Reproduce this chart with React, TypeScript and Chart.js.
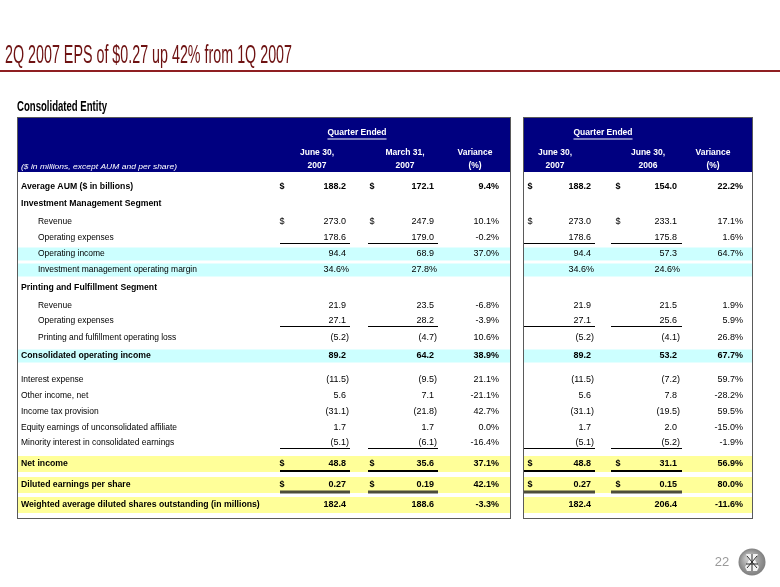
import React, { useEffect, useRef } from "react";
import { Chart, registerables } from "chart.js";

Chart.register(...registerables);

// ---------- content ----------
const slideTitle = "2Q 2007 EPS of $0.27 up 42% from 1Q 2007";
const sectionTitle = "Consolidated Entity";
const noteText = "($ in millions, except AUM and per share)";
const groupHeader = "Quarter Ended";
const qColHeads = [["June 30,", "2007"], ["March 31,", "2007"], ["Variance", "(%)"]];
const yColHeads = [["June 30,", "2007"], ["June 30,", "2006"], ["Variance", "(%)"]];
const pageNumber = "22";

const rowLabels = [
  "Average AUM ($ in billions)",
  "Investment Management Segment",
  "Revenue",
  "Operating expenses",
  "Operating income",
  "Investment management operating margin",
  "Printing and Fulfillment Segment",
  "Revenue",
  "Operating expenses",
  "Printing and fulfillment operating loss",
  "Consolidated operating income",
  "Interest expense",
  "Other income, net",
  "Income tax provision",
  "Equity earnings of unconsolidated affiliate",
  "Minority interest in consolidated earnings",
  "Net income",
  "Diluted earnings per share",
  "Weighted average diluted shares outstanding (in millions)",
];

// Quarter ended: June 30 2007 vs March 31 2007
const qJun07 = [188.2, null, 273.0, 178.6, 94.4, 34.6, null, 21.9, 27.1, -5.2, 89.2, -11.5, 5.6, -31.1, 1.7, -5.1, 48.8, 0.27, 182.4];
const qMar07 = [172.1, null, 247.9, 179.0, 68.9, 27.8, null, 23.5, 28.2, -4.7, 64.2, -9.5, 7.1, -21.8, 1.7, -6.1, 35.6, 0.19, 188.6];
const qVariance = [9.4, null, 10.1, -0.2, 37.0, null, null, -6.8, -3.9, 10.6, 38.9, 21.1, -21.1, 42.7, 0.0, -16.4, 37.1, 42.1, -3.3];
// Quarter ended: June 30 2007 vs June 30 2006
const yJun07 = [188.2, null, 273.0, 178.6, 94.4, 34.6, null, 21.9, 27.1, -5.2, 89.2, -11.5, 5.6, -31.1, 1.7, -5.1, 48.8, 0.27, 182.4];
const yJun06 = [154.0, null, 233.1, 175.8, 57.3, 24.6, null, 21.5, 25.6, -4.1, 53.2, -7.2, 7.8, -19.5, 2.0, -5.2, 31.1, 0.15, 206.4];
const yVariance = [22.2, null, 17.1, 1.6, 64.7, null, null, 1.9, 5.9, 26.8, 67.7, 59.7, -28.2, 59.5, -15.0, -1.9, 56.9, 80.0, -11.6];

// row roles
const percentRows = [5];
const twoDecimalRows = [17];
const dollarRows = [0, 2, 16, 17];

// ---------- layout / style (kept separate from values) ----------
const rowY = [187, 204, 222, 238, 254, 270, 288, 306, 321, 338, 356, 380, 396, 412, 428, 443, 464, 485, 505];
const boldLabelRows = [0, 1, 6, 10, 16, 17, 18];
const boldValueRows = [0, 10, 16, 17, 18];
const indentRows = [2, 3, 4, 5, 7, 8, 9];
const cyanRows = [4, 5, 10];
const yellowRows = [16, 17, 18];
const singleRuleRows = [3, 8, 15];

const NAVY = "#000080";
const CYAN = "#ccffff";
const YELLOW = "#ffff99";
const TITLE_RED = "#6e1212";
const FONT = "'Liberation Sans', Arial, sans-serif";

const panels = [
  {
    left: 17, right: 510, top: 117, headBottom: 172, bottom: 518,
    groupCx: 357, heads: qColHeads, headCx: [317, 405, 475],
    cols: [
      { values: qJun07, dollar: 282, edge: 349, ulFrom: 280, ulTo: 350 },
      { values: qMar07, dollar: 372, edge: 437, ulFrom: 368, ulTo: 438 },
    ],
    variance: qVariance, varEdge: 499,
  },
  {
    left: 523, right: 752, top: 117, headBottom: 172, bottom: 518,
    groupCx: 603, heads: yColHeads, headCx: [555, 648, 713],
    cols: [
      { values: yJun07, dollar: 530, edge: 594, ulFrom: 523, ulTo: 595 },
      { values: yJun06, dollar: 618, edge: 680, ulFrom: 611, ulTo: 682 },
    ],
    variance: yVariance, varEdge: 743,
  },
];

function fmtValue(v: number | null, row: number): string {
  if (v === null || v === undefined) return "";
  if (percentRows.includes(row)) return v.toFixed(1) + "%";
  const d = twoDecimalRows.includes(row) ? 2 : 1;
  const s = Math.abs(v).toFixed(d);
  return v < 0 ? "(" + s + ")" : s;
}
function fmtVar(v: number | null): string {
  if (v === null || v === undefined) return "";
  return v.toFixed(1) + "%";
}

function txt(ctx: CanvasRenderingContext2D, s: string, x: number, y: number, font: string, color: string, align: CanvasTextAlign = "left", sx = 1) {
  ctx.save();
  ctx.font = font;
  ctx.fillStyle = color;
  ctx.textBaseline = "middle";
  ctx.textAlign = align;
  ctx.translate(x, y);
  ctx.scale(sx, 1);
  ctx.fillText(s, 0, 0);
  ctx.restore();
}

const tablePlugin = {
  id: "tablePlugin",
  beforeDatasetsDraw(chart: any) {
    const ctx: CanvasRenderingContext2D = chart.ctx;
    const X = (v: number) => chart.scales.x.getPixelForValue(v);
    const Y = (v: number) => chart.scales.y.getPixelForValue(v);
    ctx.save();
    ctx.fillStyle = "#ffffff";
    ctx.fillRect(X(0), Y(0), X(780) - X(0), Y(587) - Y(0));

    // title
    ctx.save();
    ctx.font = "26px 'Liberation Sans Narrow', 'Liberation Sans', Arial, sans-serif";
    ctx.fillStyle = TITLE_RED;
    ctx.textBaseline = "alphabetic";
    const tw = ctx.measureText(slideTitle).width;
    ctx.translate(X(5), Y(63));
    ctx.scale(287 / tw, 1);
    ctx.fillText(slideTitle, 0, 0);
    ctx.restore();
    ctx.fillStyle = "#8f1f22";
    ctx.fillRect(X(0), Y(70), X(780) - X(0), 2);

    // section title
    ctx.save();
    ctx.font = "bold 15px 'Liberation Sans Narrow', 'Liberation Sans', Arial, sans-serif";
    ctx.fillStyle = "#000";
    ctx.textBaseline = "alphabetic";
    const sw = ctx.measureText(sectionTitle).width;
    ctx.translate(X(17), Y(111));
    ctx.scale(90 / sw, 1);
    ctx.fillText(sectionTitle, 0, 0);
    ctx.restore();

    for (const p of panels) {
      ctx.fillStyle = NAVY;
      ctx.fillRect(X(p.left), Y(p.top), X(p.right) - X(p.left), Y(p.headBottom) - Y(p.top));
      for (const r of cyanRows) {
        ctx.fillStyle = CYAN;
        ctx.fillRect(X(p.left), Y(rowY[r] - 6.5), X(p.right) - X(p.left), Y(rowY[r] + 6.5) - Y(rowY[r] - 6.5));
      }
      for (const r of yellowRows) {
        ctx.fillStyle = YELLOW;
        ctx.fillRect(X(p.left), Y(rowY[r] - 8), X(p.right) - X(p.left), Y(rowY[r] + 8) - Y(rowY[r] - 8));
      }
    }
    ctx.restore();
  },
  afterDatasetsDraw(chart: any) {
    const ctx: CanvasRenderingContext2D = chart.ctx;
    const X = (v: number) => chart.scales.x.getPixelForValue(v);
    const Y = (v: number) => chart.scales.y.getPixelForValue(v);
    ctx.save();
    const reg = `9px ${FONT}`;
    const bold = `bold 9px ${FONT}`;
    const head = `bold 8.5px ${FONT}`;

    ctx.font = reg;
    const parenW = ctx.measureText(")").width;

    // note
    ctx.font = `italic 8px ${FONT}`;
    const nw = ctx.measureText(noteText).width;
    txt(ctx, noteText, X(21), Y(167), `italic 8px ${FONT}`, "#ffffff", "left", 156 / nw);

    // row labels
    rowLabels.forEach((lab, r) => {
      const x = indentRows.includes(r) ? 38 : 21;
      const b = boldLabelRows.includes(r);
      txt(ctx, lab, X(x), Y(rowY[r]), b ? bold : reg, "#000", "left", b ? 0.965 : 0.94);
    });

    for (const p of panels) {
      txt(ctx, groupHeader, X(p.groupCx), Y(133), head, "#fff", "center");
      ctx.font = head;
      const gw = ctx.measureText(groupHeader).width;
      ctx.fillStyle = "#fff";
      ctx.fillRect(X(p.groupCx - gw / 2), Y(138.5), gw, 1);
      p.heads.forEach((h, i) => {
        txt(ctx, h[0], X(p.headCx[i]), Y(153), head, "#fff", "center");
        txt(ctx, h[1], X(p.headCx[i]), Y(166), head, "#fff", "center");
      });

      rowLabels.forEach((_, r) => {
        const f = boldValueRows.includes(r) ? bold : reg;
        p.cols.forEach((c) => {
          const s = fmtValue(c.values[r], r);
          if (!s) return;
          const endsOpen = /[)%]$/.test(s);
          const x = endsOpen ? c.edge : c.edge - parenW;
          txt(ctx, s, X(x), Y(rowY[r]), f, "#000", "right");
          if (dollarRows.includes(r)) txt(ctx, "$", X(c.dollar), Y(rowY[r]), f, "#000", "center");
        });
        const vs = fmtVar(p.variance[r]);
        if (vs) txt(ctx, vs, X(p.varEdge), Y(rowY[r]), f, "#000", "right");
      });

      p.cols.forEach((c) => {
        for (const r of singleRuleRows) {
          ctx.fillStyle = "#000";
          ctx.fillRect(X(c.ulFrom), Y(rowY[r] + 5), X(c.ulTo) - X(c.ulFrom), 1);
        }
        ctx.fillStyle = "#000";
        ctx.fillRect(X(c.ulFrom), Y(rowY[16] + 6), X(c.ulTo) - X(c.ulFrom), 2);
        ctx.fillStyle = "#4d4d3a";
        ctx.fillRect(X(c.ulFrom), Y(rowY[17] + 5.5), X(c.ulTo) - X(c.ulFrom), 3);
      });

      ctx.strokeStyle = "#5a5a5a";
      ctx.lineWidth = 1;
      ctx.strokeRect(X(p.left) + 0.5, Y(p.top) + 0.5, X(p.right) - X(p.left), Y(p.bottom) - Y(p.top));
    }

    txt(ctx, pageNumber, X(722), Y(562), `13px ${FONT}`, "#9a9a9a", "center");

    // logo
    const cx = X(752), cy = Y(562);
    const g = ctx.createRadialGradient(cx - 4, cy - 4, 2, cx, cy, 14);
    g.addColorStop(0, "#c8c8c8");
    g.addColorStop(1, "#7c7c7c");
    ctx.fillStyle = g;
    ctx.beginPath();
    ctx.arc(cx, cy, 13.5, 0, Math.PI * 2);
    ctx.fill();
    ctx.fillStyle = "#f2f2f2";
    ctx.beginPath();
    ctx.moveTo(cx - 6, cy - 8);
    ctx.lineTo(cx + 6, cy - 8);
    ctx.lineTo(cx + 3, cy - 2);
    ctx.lineTo(cx + 7, cy + 5);
    ctx.lineTo(cx + 5, cy + 9);
    ctx.lineTo(cx - 5, cy + 9);
    ctx.lineTo(cx - 7, cy + 5);
    ctx.lineTo(cx - 3, cy - 2);
    ctx.closePath();
    ctx.fill();
    ctx.strokeStyle = "#2a2a2a";
    ctx.lineWidth = 1;
    ctx.beginPath();
    ctx.moveTo(cx - 5, cy - 6); ctx.lineTo(cx + 5, cy + 6);
    ctx.moveTo(cx + 5, cy - 6); ctx.lineTo(cx - 5, cy + 6);
    ctx.moveTo(cx, cy - 8); ctx.lineTo(cx, cy + 9);
    ctx.moveTo(cx - 6, cy + 2); ctx.lineTo(cx + 6, cy + 2);
    ctx.stroke();

    ctx.restore();
  },
};

export default function App() {
  const ref = useRef<HTMLCanvasElement | null>(null);
  useEffect(() => {
    if (!ref.current) return;
    const chart = new Chart(ref.current, {
      type: "scatter",
      data: { datasets: [{ data: [], pointRadius: 0 }] },
      options: {
        animation: false,
        responsive: false,
        devicePixelRatio: 1,
        events: [],
        layout: { padding: 0 },
        plugins: { legend: { display: false }, tooltip: { enabled: false } },
        scales: {
          x: { type: "linear", min: 0, max: 780, display: false },
          y: { type: "linear", min: 0, max: 587, reverse: true, display: false },
        },
      },
      plugins: [tablePlugin],
    } as any);
    return () => chart.destroy();
  }, []);
  return (
    <div style={{ position: "fixed", left: 0, top: 0, width: 780, height: 587, background: "#fff" }}>
      <canvas ref={ref} width={780} height={587} style={{ display: "block", width: 780, height: 587 }} />
    </div>
  );
}
